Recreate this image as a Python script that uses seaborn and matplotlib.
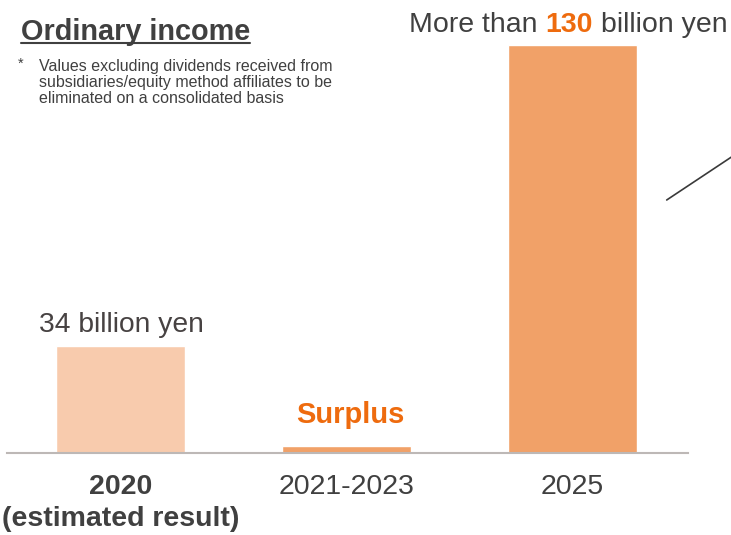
import matplotlib
matplotlib.use("Agg")
import matplotlib.pyplot as plt
from matplotlib.lines import Line2D
import seaborn as sns
import pandas as pd

# ---- data -------------------------------------------------------------
periods = ["2020", "2021-2023", "2025"]
income = [34, 2, 130]                      # ordinary income, billion yen
tick_labels = ["2020\n(estimated result)", "2021-2023", "2025"]
bar_colors = ["#F8CBAD", "#F1A168", "#F1A168"]

label_2020 = "34 billion yen"
label_surplus = "Surplus"
target_prefix, target_value, target_suffix = "More than", "130", "billion yen"

title = "Ordinary income"
footnote_lines = ["Values excluding dividends received from",
                  "subsidiaries/equity method affiliates to be",
                  "eliminated on a consolidated basis"]

# ---- style ------------------------------------------------------------
W, H = 731, 535
TEXT = "#404040"
ORANGE = "#EE6B0E"

sns.set_theme(style="white")
plt.rcParams["font.family"] = ["Liberation Sans", "DejaVu Sans"]

fig = plt.figure(figsize=(W / 100, H / 100), dpi=100)
fig.patch.set_facecolor("white")


def fx(px):
    return px / W


def fy(py):
    return 1 - py / H


ax = fig.add_axes([fx(7), fy(452.5), fx(688) - fx(7), fy(45) - fy(452.5)])

df = pd.DataFrame({"period": periods, "income": income})
sns.barplot(data=df, x="period", y="income", hue="period",
            palette=bar_colors, saturation=1, width=0.571,
            legend=False, ax=ax)

ax.set_xlim(-0.502, 2.511)
ax.set_ylim(0, 130)
ax.set_xlabel("")
ax.set_ylabel("")
ax.set_yticks([])
ax.set_facecolor("white")
for side in ("left", "top", "right"):
    ax.spines[side].set_visible(False)
ax.spines["bottom"].set_color("#BDB8B6")
ax.spines["bottom"].set_linewidth(1.5)

ax.set_xticks(range(len(periods)))
ax.set_xticklabels(tick_labels, fontsize=20.5, color=TEXT)
first = ax.get_xticklabels()[0]
first.set_fontweight("bold")
first.set_linespacing(1.3)
ax.tick_params(axis="x", length=0, pad=15.5)

# value labels above the bars
ax.annotate(label_2020, xy=(0, income[0]), xytext=(1, 10),
            textcoords="offset points", ha="center", va="baseline",
            fontsize=20.3, color="#474242", annotation_clip=False)

ax.annotate(label_surplus, xy=(1, income[1]), xytext=(3, 17),
            textcoords="offset points", ha="center", va="baseline",
            fontsize=21, fontweight="bold", color=ORANGE,
            annotation_clip=False)

t_val = ax.annotate(target_value, xy=(2, income[2]), xytext=(-2.5, 9.4),
                    textcoords="offset points", ha="center", va="baseline",
                    fontsize=20.5, fontweight="bold", color=ORANGE,
                    annotation_clip=False)
space = 0.278 * 20.5
ax.annotate(target_prefix, xy=(0, 0), xycoords=t_val, xytext=(-space, 0),
            textcoords="offset points", ha="right", va="bottom",
            fontsize=20.5, color=TEXT, annotation_clip=False)
ax.annotate(target_suffix, xy=(1, 0), xycoords=t_val, xytext=(space, 0),
            textcoords="offset points", ha="left", va="bottom",
            fontsize=20.5, color=TEXT, annotation_clip=False)

# heading with underline and footnote
t_title = fig.text(fx(21), fy(40), title, fontsize=20.8, fontweight="bold",
                   color=TEXT, ha="left", va="baseline")
fig.text(fx(17.5), fy(68), "*", fontsize=10.5, color=TEXT,
         ha="left", va="baseline")
for i, line in enumerate(footnote_lines):
    fig.text(fx(39), fy(71 + 16 * i), line, fontsize=11.5, color=TEXT,
             ha="left", va="baseline")

fig.canvas.draw()
bb = t_title.get_window_extent(fig.canvas.get_renderer())
fig.add_artist(Line2D([bb.x0 / W, bb.x1 / W], [fy(43.3), fy(43.3)],
                      transform=fig.transFigure, color=TEXT, lw=1.5))

# leader line running off to the right
fig.add_artist(Line2D([fx(666.7), fx(745)], [fy(200), fy(148)],
                      transform=fig.transFigure, color="#3A3A3A", lw=1.2))

fig.savefig("out.png", dpi=100, facecolor="white")
